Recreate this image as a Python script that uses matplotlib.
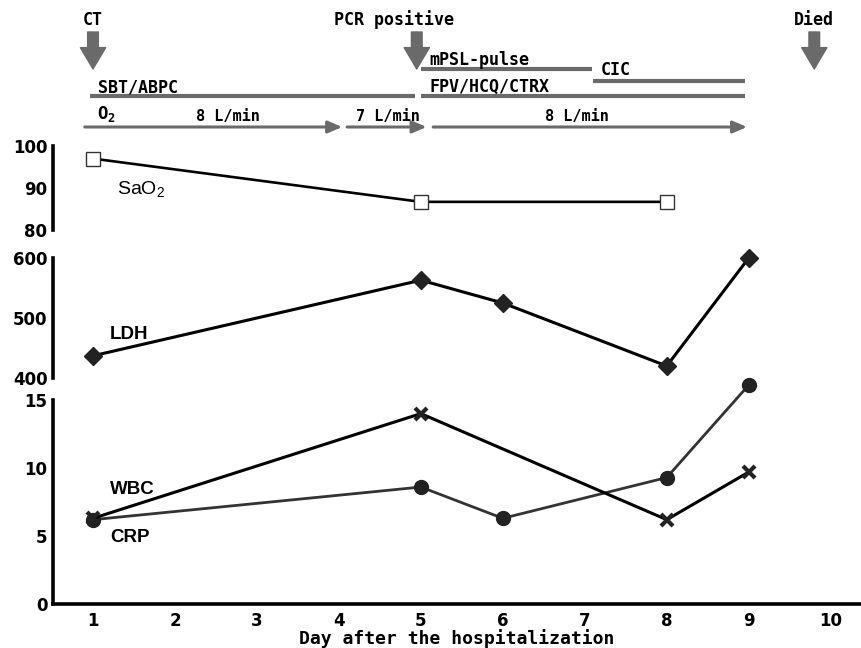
import matplotlib.pyplot as plt

plt.rcParams['mathtext.default'] = 'regular'

days_sao2 = [1, 5, 8]
sao2 = [97, 86.7, 86.7]

days_ldh = [1, 5, 6, 8, 9]
ldh = [437, 563, 525, 420, 600]

days_wbc = [1, 5, 8, 9]
wbc = [6.3, 14.0, 6.2, 9.7]

days_crp = [1, 5, 6, 8, 9]
crp = [6.2, 8.6, 6.3, 9.3, 16.1]

x_ticks = [1, 2, 3, 4, 5, 6, 7, 8, 9, 10]

# timeline items
events = [('CT', 1.0, 1.0), ('PCR positive', 4.95, 4.67), ('Died', 9.8, 9.79)]
drugs = [('SBT/ABPC', 0.96, 4.93, 96),
         ('FPV/HCQ/CTRX', 5.0, 8.96, 96),
         ('mPSL-pulse', 5.0, 7.09, 69),
         ('CIC', 7.1, 8.96, 81)]
oxygen = [('8 L/min', 0.9, 4.04), ('7 L/min', 4.1, 5.07), ('8 L/min', 5.15, 8.98)]

W, H = 861, 648
xlim = (0.512, 10.37)
gray = '#6a6a6a'
mono = 'DejaVu Sans Mono'
lab_font = ['Liberation Sans', 'DejaVu Sans']

fig = plt.figure(figsize=(8.61, 6.48), dpi=100)


def px_axes(left, top, right, bottom):
    return fig.add_axes([left / W, 1 - bottom / H, (right - left) / W, (bottom - top) / H])


def style_left(ax):
    for s in ['top', 'right', 'bottom']:
        ax.spines[s].set_visible(False)
    ax.spines['left'].set_linewidth(2.6)
    ax.tick_params(axis='y', length=0, pad=4, labelsize=12)
    ax.set_xticks([])
    ax.set_xlim(*xlim)
    for lab in ax.get_yticklabels():
        lab.set_fontweight('bold')


# SaO2 panel
ax1 = px_axes(53, 146, 861, 230)
ax1.plot(days_sao2, sao2, color='black', lw=1.9, marker='s', ms=10,
         mfc='white', mec='#333333', mew=1.0, clip_on=False)
ax1.set_ylim(80, 100)
ax1.set_yticks([80, 90, 100])
style_left(ax1)
ax1.text(1.29, 89.8, 'SaO$_2$', fontsize=14, family=lab_font, va='center', ha='left')

# LDH panel
ax2 = px_axes(53, 258, 861, 378)
ax2.plot(days_ldh, ldh, color='black', lw=2.2, marker='D', ms=9,
         mfc='#222222', mec='#222222', clip_on=False)
ax2.set_ylim(400, 600)
ax2.set_yticks([400, 500, 600])
style_left(ax2)
ax2.text(1.21, 472, 'LDH', fontsize=13.5, fontweight='bold', family=lab_font,
         va='center', ha='left')

# WBC / CRP panel
ax3 = px_axes(53, 400, 861, 604)
ax3.plot(days_crp, crp, color='#333333', lw=2.0, marker='o', ms=10,
         mfc='#222222', mec='#222222', clip_on=False)
ax3.plot(days_wbc, wbc, color='black', lw=2.2, marker='x', ms=9, mew=3,
         mec='#222222', clip_on=False)
ax3.set_xlim(*xlim)
ax3.set_ylim(0, 15)
ax3.set_yticks([0, 5, 10, 15])
ax3.set_xticks(x_ticks)
for s in ['top', 'right']:
    ax3.spines[s].set_visible(False)
ax3.spines['left'].set_linewidth(2.6)
ax3.spines['bottom'].set_linewidth(2.6)
ax3.tick_params(length=0, labelsize=12, pad=6)
ax3.tick_params(axis='y', pad=4)
for lab in ax3.get_xticklabels() + ax3.get_yticklabels():
    lab.set_fontweight('bold')
ax3.set_xlabel('Day after the hospitalization', family=mono, fontsize=13,
               fontweight='bold', labelpad=-1)
ax3.text(1.21, 8.4, 'WBC', fontsize=13.5, fontweight='bold', family=lab_font,
         va='center', ha='left')
ax3.text(1.21, 4.9, 'CRP', fontsize=13.5, fontweight='bold', family=lab_font,
         va='center', ha='left')

# timeline on top, y in pixel rows
axt = px_axes(53, 0, 861, 140)
axt.set_xlim(*xlim)
axt.set_ylim(140, 0)
axt.axis('off')

for label, d, lx in events:
    axt.text(lx, 20, label, family=mono, fontsize=12, fontweight='bold',
             ha='center', va='center')
    axt.annotate('', xy=(d, 69), xytext=(d, 32),
                 arrowprops=dict(arrowstyle='simple,head_width=1.3,head_length=1.1,tail_width=0.55',
                                 mutation_scale=14, color=gray, shrinkA=0, shrinkB=0))

for label, d0, d1, y in drugs:
    axt.plot([d0, d1], [y, y], color=gray, lw=3, solid_capstyle='butt')
    dy = 11 if label == 'CIC' else 9
    axt.text(d0 + 0.1, y - dy, label, family=mono, fontsize=12,
             fontweight='bold', ha='left', va='center')

axt.text(1.05, 114, 'O$_2$', family=mono, fontsize=12.5, fontweight='bold',
         ha='left', va='center')
label_pos = [2.65, 4.6, 6.9]
for (label, d0, d1), lx in zip(oxygen, label_pos):
    axt.annotate('', xy=(d1, 127), xytext=(d0, 127),
                 arrowprops=dict(arrowstyle='-|>,head_width=0.3,head_length=0.7',
                                 lw=2.2, color=gray, mutation_scale=12,
                                 shrinkA=0, shrinkB=0))
    axt.text(lx, 117, label, family=mono, fontsize=11, fontweight='bold',
             ha='center', va='center')

plt.savefig('out.png', dpi=100)
